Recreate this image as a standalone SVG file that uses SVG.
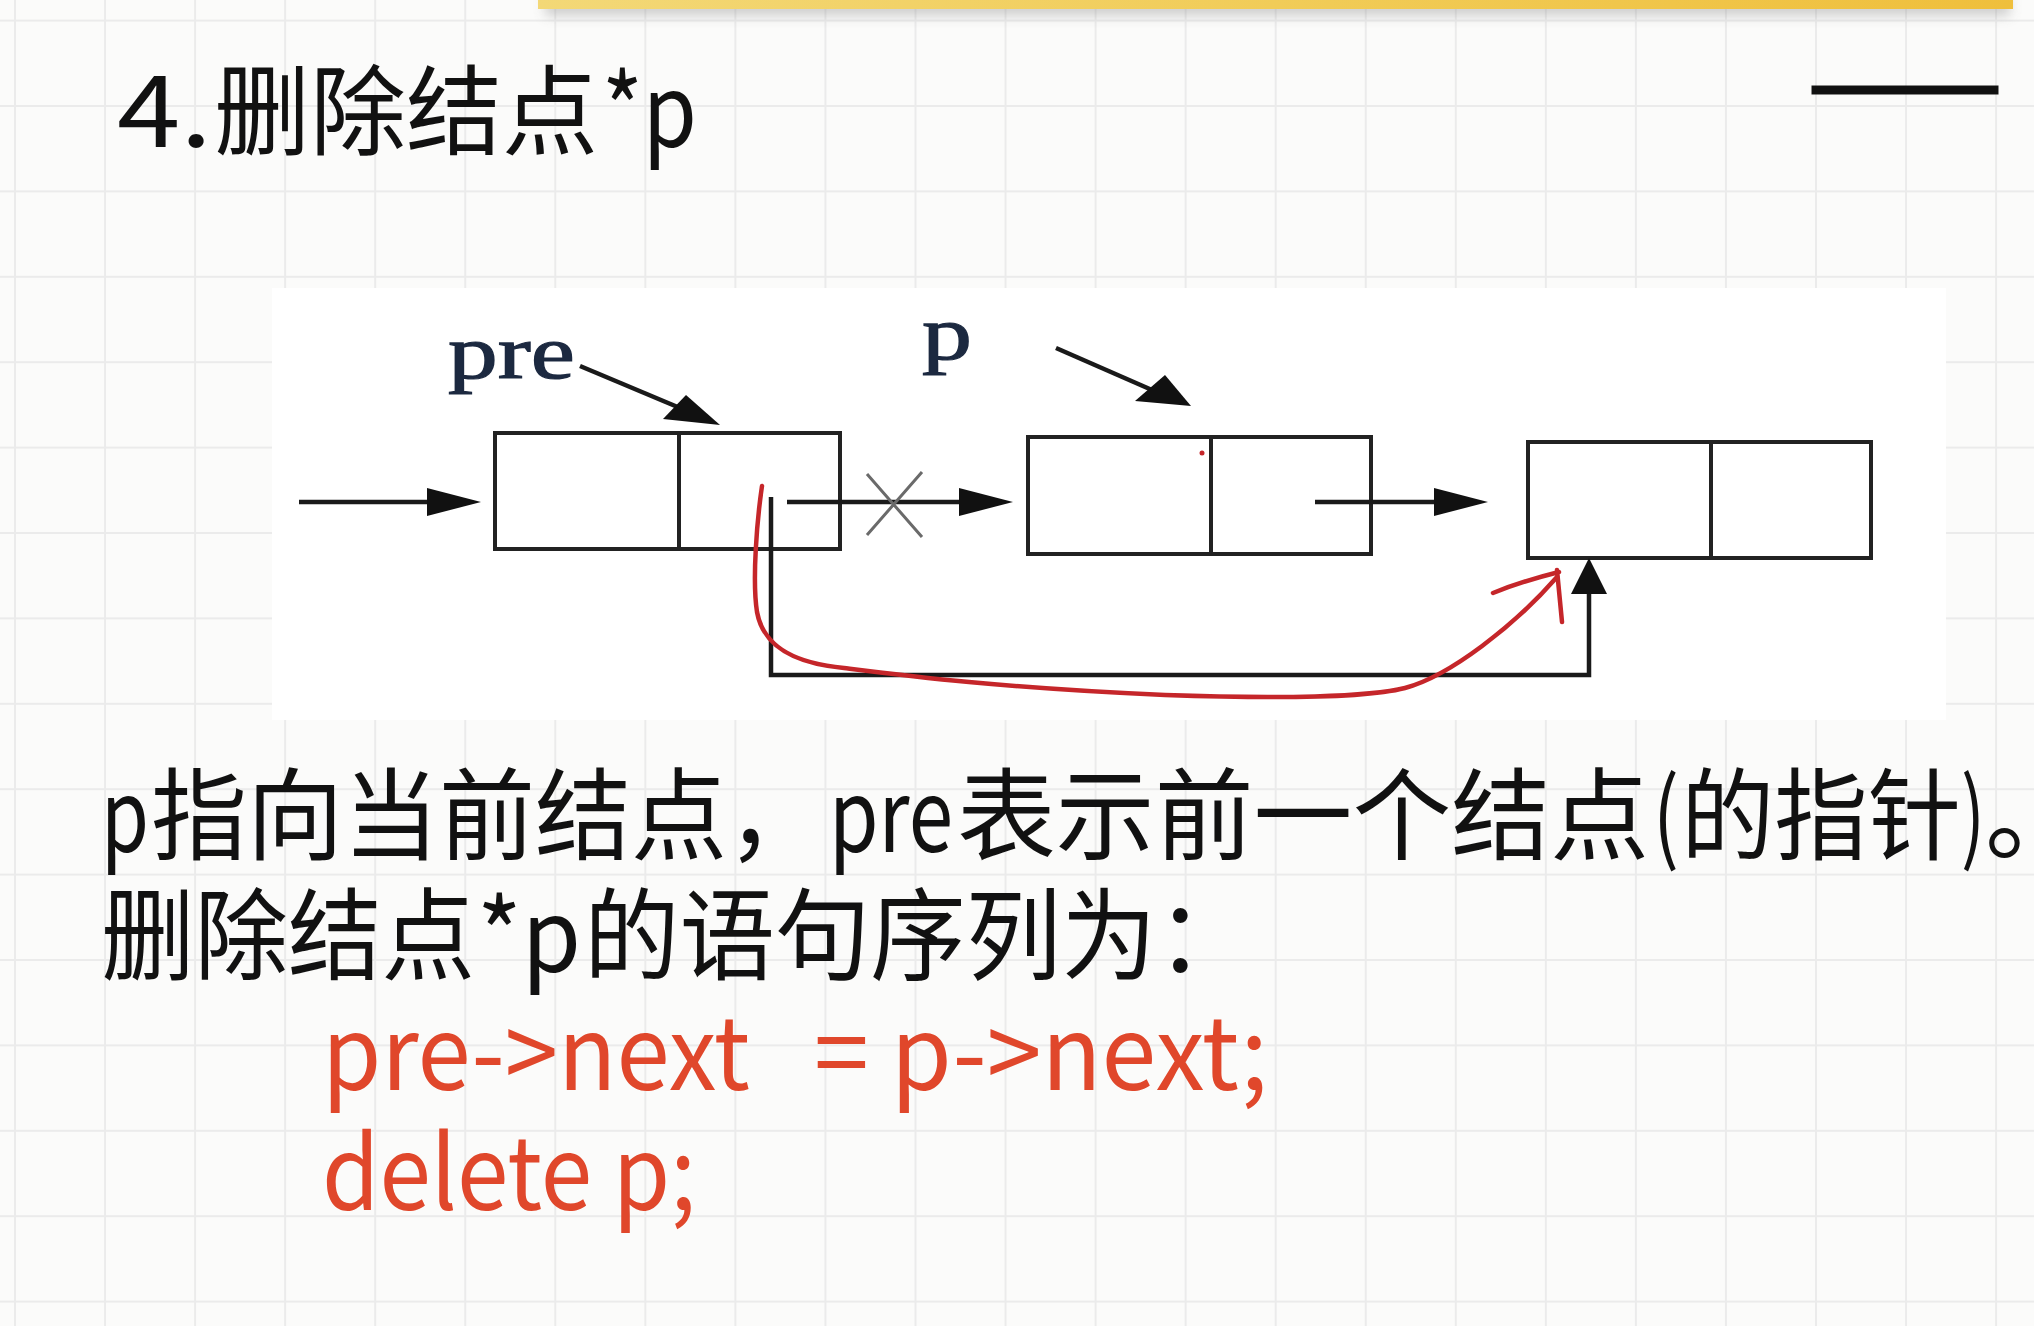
<svg xmlns="http://www.w3.org/2000/svg" width="2034" height="1326" viewBox="0 0 2034 1326">
  <defs>
    <style>
      .cjk { font-family: "Noto Sans CJK SC", "Noto Sans", sans-serif; fill: #111; }
      .code { font-family: "Noto Sans CJK SC", "Noto Sans", sans-serif; fill: #e0472b; font-size: 102px; }
      .lbl { font-family: "Liberation Serif", "DejaVu Serif", serif; font-size: 76px; fill: #1c2940; stroke: #1c2940; stroke-width: 1.2; }
      .box { fill: none; stroke: #222; stroke-width: 4; }
      .wire { fill: none; stroke: #1a1a1a; stroke-width: 4.5; }
      .head { fill: #111; stroke: none; }
      .cross { fill: none; stroke: #6a6a6a; stroke-width: 3; }
      .ink { fill: none; stroke: #c5262a; stroke-width: 4.5; stroke-linecap: round; stroke-linejoin: round; }
    </style>
    <pattern id="grid" x="14" y="19.6" width="90.05" height="85.4" patternUnits="userSpaceOnUse">
      <path d="M1,0 V85.4 M0,1 H90.05" fill="none" stroke="#ebebeb" stroke-width="2"/>
    </pattern>
    <linearGradient id="barFill" x1="0" y1="0" x2="1" y2="0">
      <stop offset="0" stop-color="#f3d877"/>
      <stop offset="0.5" stop-color="#f1cc58"/>
      <stop offset="1" stop-color="#efbf3c"/>
    </linearGradient>
    <filter id="blur" x="-5%" y="-100%" width="110%" height="400%">
      <feGaussianBlur stdDeviation="6"/>
    </filter>
  </defs>

  <!-- page and squared paper -->
  <rect width="2034" height="1326" fill="#fbfbfa"/>
  <rect width="2034" height="1326" fill="url(#grid)"/>

  <!-- banner strip at the top edge -->
  <rect x="545" y="-4" width="1465" height="20" fill="#9a9a9a" opacity="0.45" filter="url(#blur)"/>
  <rect x="538" y="-2" width="1475" height="11" fill="url(#barFill)"/>

  <!-- heading -->
  <text class="cjk" font-size="100" x="117" y="147" textLength="95" lengthAdjust="spacingAndGlyphs">4.</text>
  <text class="cjk" font-size="98" x="214" y="147" textLength="384" lengthAdjust="spacingAndGlyphs">删除结点</text>
  <text class="cjk" font-size="100" x="602" y="147" textLength="95" lengthAdjust="spacingAndGlyphs">*p</text>
  <text class="cjk" font-size="96" x="1808" y="117" textLength="194" lengthAdjust="spacingAndGlyphs" stroke="#111" stroke-width="3">——</text>

  <!-- figure panel -->
  <rect x="272" y="288" width="1674" height="432" fill="#ffffff"/>

  <!-- list nodes -->
  <g id="node-pre">
    <rect class="box" x="495" y="433" width="345" height="116"/>
    <line class="box" x1="679" y1="433" x2="679" y2="549"/>
  </g>
  <g id="node-p">
    <rect class="box" x="1028" y="437" width="343" height="117"/>
    <line class="box" x1="1211" y1="437" x2="1211" y2="554"/>
    <circle cx="1202" cy="453" r="2.5" fill="#c5262a"/>
  </g>
  <g id="node-next">
    <rect class="box" x="1528" y="442" width="343" height="116"/>
    <line class="box" x1="1711" y1="442" x2="1711" y2="558"/>
  </g>

  <!-- pointer labels -->
  <text class="lbl" x="448" y="378" textLength="127" lengthAdjust="spacingAndGlyphs">pre</text>
  <text class="lbl" x="922" y="359" textLength="50" lengthAdjust="spacingAndGlyphs">p</text>

  <!-- connectors -->
  <g id="connectors">
    <!-- into pre -->
    <line class="wire" x1="299" y1="502" x2="430" y2="502"/>
    <polygon class="head" points="481,502 427,488 427,516"/>
    <!-- pre -> p (old link, crossed out) -->
    <line class="wire" x1="787" y1="502" x2="962" y2="502"/>
    <polygon class="head" points="1013,502 959,488 959,516"/>
    <path class="cross" d="M867,474 L922,537 M922,472 L867,535"/>
    <!-- p -> next -->
    <line class="wire" x1="1315" y1="502" x2="1437" y2="502"/>
    <polygon class="head" points="1488,502 1434,488 1434,516"/>
    <!-- new link pre -> next -->
    <polyline class="wire" points="771,497 771,675 1589,675 1589,590"/>
    <polygon class="head" points="1589,558 1571,594 1607,594"/>
    <!-- label pointers -->
    <line class="wire" x1="580" y1="366" x2="680" y2="408"/>
    <polygon class="head" points="720,425 663,419 686,395"/>
    <line class="wire" x1="1056" y1="348" x2="1152" y2="390"/>
    <polygon class="head" points="1191,406 1135,401 1165,375"/>
    <!-- hand-drawn red stroke -->
    <path class="ink" d="M762,486 C757,520 752,580 757,612 C764,650 800,664 844,668 C900,675 1000,688 1165,695 C1280,699 1370,697 1405,688 C1450,676 1515,625 1557,577"/>
    <path class="ink" d="M1493,593 C1515,584 1535,578 1559,572 M1557,570 L1562,622"/>
  </g>

  <!-- explanation -->
  <g class="cjk" font-size="100">
    <text x="101" y="852" textLength="48" lengthAdjust="spacingAndGlyphs">p</text>
    <text x="151" y="852" textLength="672" lengthAdjust="spacingAndGlyphs">指向当前结点，</text>
    <text x="829" y="852" textLength="124" lengthAdjust="spacingAndGlyphs">pre</text>
    <text x="957" y="852" textLength="692" lengthAdjust="spacingAndGlyphs">表示前一个结点</text>
    <text x="1653" y="852" textLength="26" lengthAdjust="spacingAndGlyphs">(</text>
    <text x="1681" y="852" textLength="280" lengthAdjust="spacingAndGlyphs">的指针</text>
    <text x="1961" y="852" textLength="24" lengthAdjust="spacingAndGlyphs">)</text>
    <text x="1985" y="852">。</text>

    <text x="101" y="972" textLength="374" lengthAdjust="spacingAndGlyphs">删除结点</text>
    <text x="477" y="972" textLength="104" lengthAdjust="spacingAndGlyphs">*p</text>
    <text x="584" y="972" textLength="668" lengthAdjust="spacingAndGlyphs">的语句序列为：</text>
  </g>

  <!-- statements -->
  <text class="code" x="322" y="1090" textLength="428" lengthAdjust="spacingAndGlyphs">pre-&gt;next</text>
  <text class="code" x="814" y="1090" textLength="454" lengthAdjust="spacingAndGlyphs">= p-&gt;next;</text>
  <text class="code" x="322" y="1210" textLength="374" lengthAdjust="spacingAndGlyphs">delete p;</text>
</svg>
